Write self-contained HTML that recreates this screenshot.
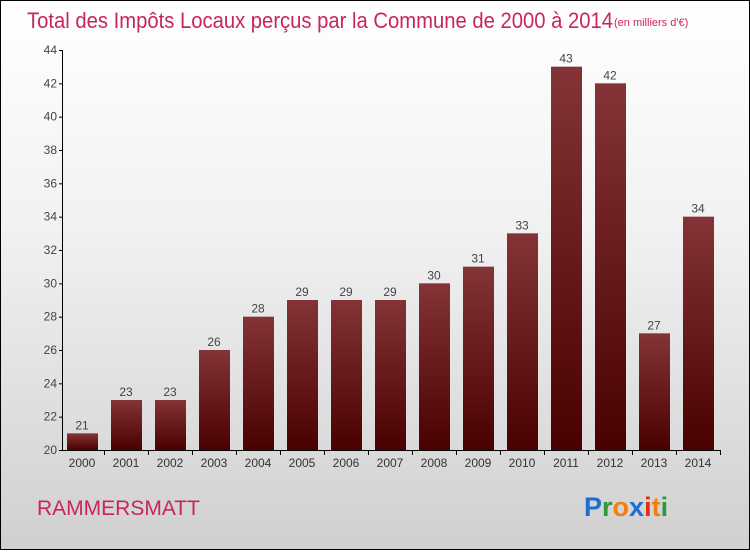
<!DOCTYPE html>
<html><head><meta charset="utf-8"><style>
html,body{margin:0;padding:0}
body{width:750px;height:550px;overflow:hidden;font-family:"Liberation Sans",sans-serif}
#wrap{position:absolute;left:0;top:0;width:748px;height:548px;border:1px solid #000;background:linear-gradient(#ffffff 0%,#f2f2f2 40%,#d0d0d0 100%)}
</style></head><body>
<div id="wrap">
<svg id="chart" width="748" height="548"></svg>
</div>
<script>
const years=["2000","2001","2002","2003","2004","2005","2006","2007","2008","2009","2010","2011","2012","2013","2014"];
const values=[21,23,23,26,28,29,29,29,30,31,33,43,42,27,34];
const yTicks=[20,22,24,26,28,30,32,34,36,38,40,42,44];
const NS="http://www.w3.org/2000/svg";
const svg=document.getElementById('chart');
function el(t,a,p){const e=document.createElementNS(NS,t);for(const k in a)e.setAttribute(k,a[k]);(p||svg).appendChild(e);return e;}
const y=v=>449-(v-20)*(400/24);
const x=i=>81+i*44;
const defs=el('defs',{});
const g=el('linearGradient',{id:'bg',x1:0,y1:0,x2:0,y2:1},defs);
el('stop',{offset:'0','stop-color':'#843436'},g);
el('stop',{offset:'1','stop-color':'#4a0000'},g);
const t=el('text',{x:26,y:27,'font-size':22,fill:'#c8265a','font-family':'Liberation Sans, sans-serif','textLength':586,lengthAdjust:'spacingAndGlyphs'});
t.textContent='Total des Impôts Locaux perçus par la Commune de 2000 à 2014';


const st=el('text',{x:613,y:25,'font-size':11,fill:'#c8265a'});
st.textContent='(en milliers d\'€)';


el('line',{x1:61.5,y1:49,x2:61.5,y2:450,stroke:'#000'});
el('line',{x1:61,y1:449.5,x2:720,y2:449.5,stroke:'#000'});
yTicks.forEach(v=>{
  el('line',{x1:58,y1:y(v)+.5,x2:62,y2:y(v)+.5,stroke:'#000'});
  const tx=el('text',{x:56,y:y(v)+4,'font-size':12,fill:'#444','text-anchor':'end'});
  tx.textContent=v;
  
  
});
years.forEach((yr,i)=>{
  const b=el('rect',{x:x(i)-15,y:y(values[i]),width:31,height:449-y(values[i]),fill:'url(#bg)'});
  
  
  const l=el('text',{x:x(i),y:y(values[i])-4,'font-size':12,fill:'#444','text-anchor':'middle'});
  l.textContent=values[i];
  
  
  el('line',{x1:x(i)+22.5,y1:449,x2:x(i)+22.5,y2:454,stroke:'#000'});
  const xl=el('text',{x:x(i),y:466,'font-size':12,fill:'#333','text-anchor':'middle'});
  xl.textContent=yr;
  
  
});
const c=el('text',{x:36,y:514,'font-size':21,fill:'#c8265a'});
c.textContent='RAMMERSMATT';


const lg=el('text',{x:583,y:515,'font-size':27,'font-weight':'bold'});


[['P','#1a6fd0'],['r','#2a9a3a'],['o','#f08010'],['x','#1a6fd0'],['i','#e03010'],['t','#f08010'],['i','#2a9a3a']].forEach(([ch,col])=>{const s=el('tspan',{fill:col},lg);s.textContent=ch;});
</script>
</body></html>
